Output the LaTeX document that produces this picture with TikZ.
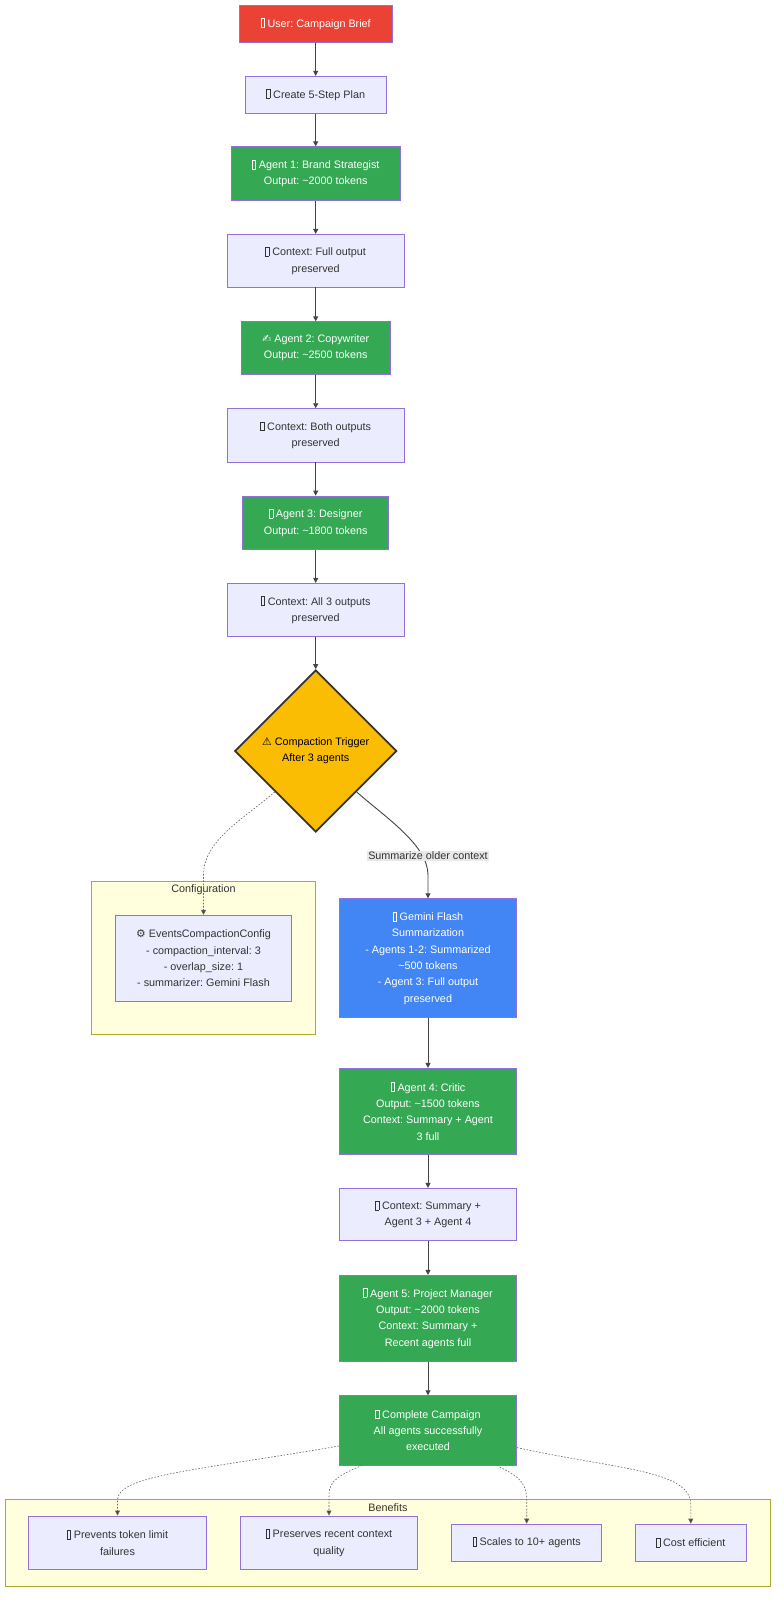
\documentclass[tikz,border=0pt]{standalone}
\usepackage{fontspec}
\setmainfont{Liberation Sans}
\newfontfamily\symfont{DejaVu Sans}
\usetikzlibrary{arrows.meta,shapes.geometric,calc}
\definecolor{mred}{HTML}{EA4335}
\definecolor{mgreen}{HTML}{34A853}
\definecolor{mblue}{HTML}{4285F4}
\definecolor{myellow}{HTML}{FBBC04}
\definecolor{nodefill}{HTML}{ECECFF}
\definecolor{nodestroke}{HTML}{9370DB}
\definecolor{sgfill}{HTML}{FFFFDE}
\definecolor{sgstroke}{HTML}{AAAA33}
\definecolor{txt}{HTML}{333333}
\definecolor{edgecol}{HTML}{444444}
\definecolor{dedgecol}{HTML}{666666}
\definecolor{lblbg}{HTML}{E8E8E8}
\newcommand\tofu{{\fboxsep=0pt\fboxrule=0.35pt\fbox{\rule{0pt}{8.5pt}\hspace{3.2pt}}}}
\newcommand\tld{\textasciitilde}
\frenchspacing
\tikzset{
  base/.style={draw=nodestroke, line width=0.8pt, align=center, inner sep=0pt,
    font=\fontsize{10.8}{16.3}\selectfont\frenchspacing},
  plainbox/.style={base, fill=nodefill, text=txt},
  redbox/.style={base, fill=mred, text=white},
  greenbox/.style={base, fill=mgreen, text=white},
  bluebox/.style={base, fill=mblue, text=white},
  sg/.style={draw=sgstroke, line width=0.8pt, fill=sgfill, inner sep=0pt},
  sglabel/.style={text=txt, inner sep=0pt, font=\fontsize{10.8}{13}\selectfont},
  arr/.style={draw=edgecol, line width=0.9pt, -{Triangle[length=5pt,width=5pt]}},
  darr/.style={draw=dedgecol, line width=0.6pt, dash pattern=on 1.6pt off 1.6pt, -{Triangle[length=5pt,width=5pt,fill=edgecol]}},
  elabel/.style={fill=lblbg, text=txt, inner sep=1pt, font=\fontsize{10.8}{13}\selectfont},
}
\begin{document}
\begin{tikzpicture}[x=1pt,y=-1pt]
\useasboundingbox (0,0) rectangle (784,1609);
\fill[white] (0,0) rectangle (784,1609);

% subgraphs
\node[sg, minimum width=224pt, minimum height=152.6pt] (cfgsg) at (203.7,958) {};
\node[sglabel] (cfgsglbl) at (203.5,889.5) {Configuration};
\node[sg, minimum width=765.6pt, minimum height=87.2pt] (bensg) at (387.9,1542.9) {};
\node[sglabel] (bensglbl) at (388,1507.3) {Benefits};

% main column
\node[redbox, minimum width=152.4pt, minimum height=37pt] (user) at (315.7,23.8) {\tofu\ User: Campaign Brief};
\node[plainbox, minimum width=140.7pt, minimum height=37pt] (plan) at (315.7,94.8) {\tofu\ Create 5-Step Plan};
\node[greenbox, minimum width=169.3pt, minimum height=53.6pt] (a1) at (315.7,173.5) {\tofu\ Agent 1: Brand Strategist\\Output: \tld2000 tokens};
\node[plainbox, minimum width=177.3pt, minimum height=52.7pt] (c1) at (315.7,260.7) {\tofu\ Context: Full output\\preserved};
\node[greenbox, minimum width=148.4pt, minimum height=52.6pt] (a2) at (315.7,348) {{\symfont ✍} Agent 2: Copywriter\\Output: \tld2500 tokens};
\node[plainbox, minimum width=177.3pt, minimum height=53.3pt] (c2) at (315.7,435.3) {\tofu\ Context: Both outputs\\preserved};
\node[greenbox, minimum width=146pt, minimum height=53.3pt] (a3) at (315.7,522.7) {\tofu\ Agent 3: Designer\\Output: \tld1800 tokens};
\node[plainbox, minimum width=177.3pt, minimum height=53.4pt] (c3) at (315.7,610) {\tofu\ Context: All 3 outputs\\preserved};
\node[diamond, aspect=1, draw=txt, line width=1.8pt, fill=myellow, text=black,
  minimum width=162pt, minimum height=162pt, inner sep=0pt, align=center,
  font=\fontsize{10.8}{16.3}\selectfont\frenchspacing] (trig) at (315.7,751) {{\symfont ⚠} Compaction Trigger\\After 3 agents};

\node[plainbox, minimum width=176.4pt, minimum height=86pt] (cfg) at (203.5,958.3) {{\symfont ⚙} EventsCompactionConfig\\- compaction\_interval: 3\\- overlap\_size: 1\\- summarizer: Gemini Flash};
\node[bluebox, minimum width=177.4pt, minimum height=118.6pt] (gem) at (428,958) {\tofu\ Gemini Flash\\Summarization\\- Agents 1-2: Summarized\\\tld500 tokens\\- Agent 3: Full output\\preserved};
\node[greenbox, minimum width=177.4pt, minimum height=86pt] (a4) at (428,1111.3) {\tofu\ Agent 4: Critic\\Output: \tld1500 tokens\\Context: Summary + Agent\\3 full};
\node[plainbox, minimum width=177.4pt, minimum height=52.4pt] (c4) at (428,1214.5) {\tofu\ Context: Summary +\\Agent 3 + Agent 4};
\node[greenbox, minimum width=177.4pt, minimum height=86pt] (a5) at (428,1318.3) {\tofu\ Agent 5: Project Manager\\Output: \tld2000 tokens\\Context: Summary +\\Recent agents full};
\node[greenbox, minimum width=177.4pt, minimum height=69.3pt] (done) at (428,1430.3) {\tofu\ Complete Campaign\\All agents successfully\\executed};

% benefits
\node[plainbox, minimum width=177.6pt, minimum height=53.3pt] (b1) at (117.5,1542.6) {\tofu\ Prevents token limit\\failures};
\node[plainbox, minimum width=177.4pt, minimum height=53.3pt] (b2) at (329,1542.6) {\tofu\ Preserves recent context\\quality};
\node[plainbox, minimum width=150.3pt, minimum height=37pt] (b3) at (526.7,1542.6) {\tofu\ Scales to 10+ agents};
\node[plainbox, minimum width=111pt, minimum height=37pt] (b4) at (690.8,1542.6) {\tofu\ Cost efficient};

% edges
\draw[arr] (user) -- (plan);
\draw[arr] (plan) -- (a1);
\draw[arr] (a1) -- (c1);
\draw[arr] (c1) -- (a2);
\draw[arr] (a2) -- (c2);
\draw[arr] (c2) -- (a3);
\draw[arr] (a3) -- (c3);
\draw[arr] (c3) -- (trig);
\draw[darr] (trig.south west) .. controls (245,818) and (203.5,840) .. (203.5,875) -- (cfg.north);
\draw[arr] (trig.south east) .. controls (385,817) and (428,845) .. (428,875) -- (gem.north);
\node[elabel] (lbl) at (428,856) {Summarize older context};
\draw[arr] (gem) -- (a4);
\draw[arr] (a4) -- (c4);
\draw[arr] (c4) -- (a5);
\draw[arr] (a5) -- (done);
\draw[darr] (done.190) .. controls (200,1470) and (117.5,1475) .. (117.5,1500) -- (b1.north);
\draw[darr] (done.208) .. controls (340,1475) and (329,1480) .. (329,1495) -- (b2.north);
\draw[darr] (done.333) .. controls (515,1475) and (526.7,1480) .. (526.7,1500) -- (b3.north);
\draw[darr] (done.349) .. controls (620,1470) and (690.8,1470) .. (690.8,1505) -- (b4.north);
\end{tikzpicture}
\end{document}
